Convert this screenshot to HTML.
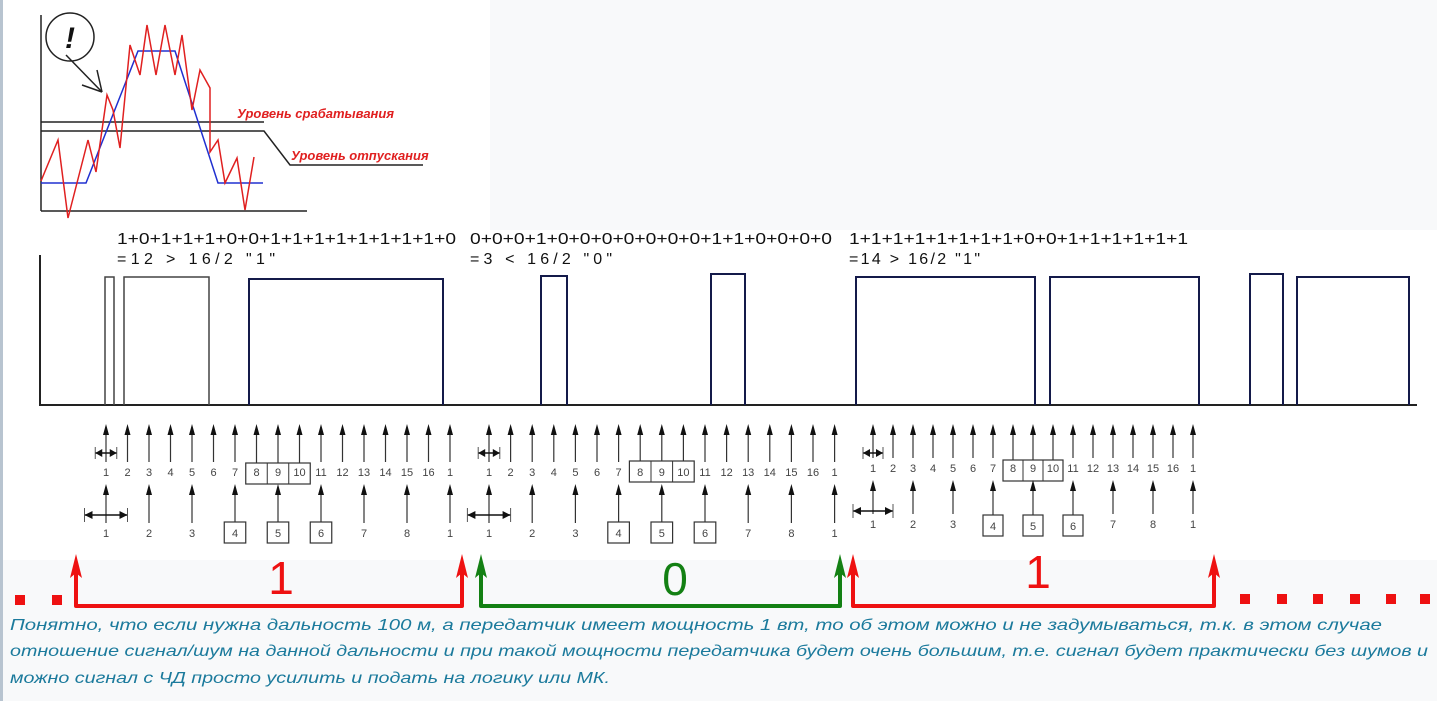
<!DOCTYPE html>
<html><head><meta charset="utf-8"><style>
html,body{margin:0;padding:0;background:#f8f9fa;}
svg{display:block}
</style></head><body>
<svg id="s" width="1437" height="701" xmlns="http://www.w3.org/2000/svg" font-family="Liberation Sans, sans-serif">
<rect x="0" y="0" width="1437" height="701" fill="#f8f9fa"/>
<rect x="0" y="0" width="3" height="701" fill="#b8c4d0"/>
<rect x="3" y="0" width="487" height="230" fill="#fff"/>
<rect x="3" y="230" width="1434" height="330" fill="#fff"/>
<!-- top graph -->
<g fill="none" stroke="#222" stroke-width="1.5">
<line x1="41" y1="15" x2="41" y2="211"/>
<line x1="41" y1="211" x2="307" y2="211"/>
<line x1="41" y1="122" x2="264" y2="122"/>
<polyline points="41,131 264,131 290,165 423,165"/>
<circle cx="70" cy="37" r="24"/>
<line x1="66" y1="55" x2="102" y2="92"/>
<line x1="82" y1="85" x2="102" y2="92"/>
<line x1="97" y1="70" x2="102" y2="92"/>
</g>
<text x="70" y="48" font-size="30" font-weight="bold" font-style="italic" text-anchor="middle" fill="#111">!</text>
<polyline fill="none" stroke="#2030d0" stroke-width="1.5" points="41,183 86,183 138,51 175,51 218,183 263,183"/>
<polyline fill="none" stroke="#e02020" stroke-width="1.5" points="41,181 58,140 68,218 88,140 96,172 107,95 113,110 120,148 130,45 140,75 147,25 156,75 165,25 175,75 182,35 192,110 200,70 210,88 210,152 218,140 225,183 237,158 245,210 254,157"/>
<text x="237" y="118" font-size="13" font-weight="bold" font-style="italic" fill="#e02020">Уровень срабатывания</text>
<text x="291" y="160" font-size="13" font-weight="bold" font-style="italic" fill="#e02020">Уровень отпускания</text>
<!-- sums -->
<g font-size="16" fill="#111">
<text x="117" y="244" textLength="339" lengthAdjust="spacingAndGlyphs">1+0+1+1+1+0+0+1+1+1+1+1+1+1+1+0</text>
<text x="117" y="264" textLength="158" lengthAdjust="spacing">=12 &gt; 16/2     "1"</text>
<text x="470" y="244" textLength="362" lengthAdjust="spacingAndGlyphs">0+0+0+1+0+0+0+0+0+0+0+1+1+0+0+0+0</text>
<text x="470" y="264" textLength="142" lengthAdjust="spacing">=3 &lt; 16/2     "0"</text>
<text x="849" y="244" textLength="339" lengthAdjust="spacingAndGlyphs">1+1+1+1+1+1+1+1+0+0+1+1+1+1+1+1</text>
<text x="849" y="264" textLength="131" lengthAdjust="spacing">=14 &gt; 16/2     "1"</text>
</g>
<!-- waveform -->
<line x1="40" y1="255" x2="40" y2="405" stroke="#222" stroke-width="2"/>
<line x1="39" y1="405" x2="1417" y2="405" stroke="#222" stroke-width="2"/>
<g fill="none" stroke="#444" stroke-width="1.5">
<polyline points="105,405 105,277 114,277 114,405"/>
<polyline points="124,405 124,277 209,277 209,405"/>
</g>
<g fill="none" stroke="#141a4a" stroke-width="2">
<polyline points="249,405 249,279 443,279 443,405"/>
<polyline points="541,405 541,276 567,276 567,405"/>
<polyline points="711,405 711,274 745,274 745,405"/>
<polyline points="856,405 856,277 1035,277 1035,405"/>
<polyline points="1050,405 1050,277 1199,277 1199,405"/>
<polyline points="1250,405 1250,274 1283,274 1283,405"/>
<polyline points="1297,405 1297,277 1409,277 1409,405"/>
</g>
<g id="arr"></g>
<!-- brackets -->
<g fill="none" stroke-width="4" stroke-linejoin="round">
<polyline stroke="#ee1111" points="76,568 76,606 462,606 462,568"/>
<polyline stroke="#138013" points="481,568 481,606 840,606 840,568"/>
<polyline stroke="#ee1111" points="853,568 853,606 1214,606 1214,568"/>
</g>
<polygon fill="#ee1111" points="76,554 70,578 76,573 82,578"/>
<polygon fill="#ee1111" points="462,554 456,578 462,573 468,578"/>
<polygon fill="#138013" points="481,554 475,578 481,573 487,578"/>
<polygon fill="#138013" points="840,554 834,578 840,573 846,578"/>
<polygon fill="#ee1111" points="853,554 847,578 853,573 859,578"/>
<polygon fill="#ee1111" points="1214,554 1208,578 1214,573 1220,578"/>
<text x="281" y="594" font-size="46" fill="#ee1111" text-anchor="middle">1</text>
<text x="675" y="595" font-size="46" fill="#138013" text-anchor="middle">0</text>
<text x="1038" y="588" font-size="46" fill="#ee1111" text-anchor="middle">1</text>
<g fill="#ee1111">
<rect x="15" y="595" width="10" height="10"/><rect x="52" y="595" width="10" height="10"/>
<rect x="1240" y="594" width="10" height="10"/><rect x="1277" y="594" width="10" height="10"/><rect x="1313" y="594" width="10" height="10"/><rect x="1350" y="594" width="10" height="10"/><rect x="1386" y="594" width="10" height="10"/><rect x="1420" y="594" width="10" height="10"/>
</g>
<g font-size="16" font-style="italic" fill="#1b7a9c">
<text x="10" y="630" textLength="1372" lengthAdjust="spacingAndGlyphs">Понятно, что если нужна дальность 100 м, а передатчик имеет мощность 1 вт, то об этом можно и не задумываться, т.к. в этом случае</text>
<text x="10" y="656" textLength="1418" lengthAdjust="spacingAndGlyphs">отношение сигнал/шум на данной дальности и при такой мощности передатчика будет очень большим, т.е. сигнал будет практически без шумов и</text>
<text x="10" y="683" textLength="600" lengthAdjust="spacingAndGlyphs">можно сигнал с ЧД просто усилить и подать на логику или МК.</text>
</g>
</svg>
<script>
(function(){
var NS="http://www.w3.org/2000/svg",g=document.getElementById("arr");
function el(t,a,txt){var e=document.createElementNS(NS,t);for(var k in a)e.setAttribute(k,a[k]);if(txt!=null)e.textContent=txt;g.appendChild(e);return e;}
function arrow(x,tip,bot){el("line",{x1:x,y1:tip+8,x2:x,y2:bot,stroke:"#333","stroke-width":1.2});el("polygon",{points:(x)+","+tip+" "+(x-3)+","+(tip+11)+" "+(x+3)+","+(tip+11),fill:"#111"});}
function lab(x,y,t){el("text",{x:x,y:y,"font-size":11,"text-anchor":"middle",fill:"#444"},t);}
function box(x,y,w,h){el("rect",{x:x,y:y,width:w,height:h,fill:"none",stroke:"#333","stroke-width":1.2});}
var G=[{x:106,s:21.5,r1:424,l1:476,r2:484,l2:537,b1:463,b2:522},{x:489,s:21.6,r1:424,l1:476,r2:484,l2:537,b1:461,b2:522},{x:873,s:20,r1:424,l1:472,r2:480,l2:528,b1:460,b2:515}];
G.forEach(function(p){
 for(var i=0;i<17;i++){var x=p.x+i*p.s;var inBox=(i>=7&&i<=9);arrow(x,p.r1,inBox?p.b1:p.l1-14);
  var t=i<16?String(i+1):"1";lab(x,p.l1,t);}
 box(p.x+7*p.s-p.s/2,p.b1,p.s*3,21);
 el("line",{x1:p.x+8*p.s-p.s/2,y1:p.b1,x2:p.x+8*p.s-p.s/2,y2:p.b1+21,stroke:"#333"});
 el("line",{x1:p.x+9*p.s-p.s/2,y1:p.b1,x2:p.x+9*p.s-p.s/2,y2:p.b1+21,stroke:"#333"});
 var labs=["1","2","3","4","5","6","7","8","1"];
 for(var j=0;j<9;j++){var x=p.x+2*j*p.s;var bx=(j>=3&&j<=5);
  arrow(x,p.r2,bx?p.b2:p.l2-14);
  if(bx){box(x-p.s/2,p.b2,p.s,21);lab(x,p.b2+15,labs[j]);}else lab(x,p.l2,labs[j]);}
 var y1=p.r1+29,x0=p.x-p.s/2,x1=p.x+p.s/2;
 el("line",{x1:x0,y1:y1,x2:x1,y2:y1,stroke:"#111","stroke-width":1.5});
 el("line",{x1:x0,y1:y1-6,x2:x0,y2:y1+6,stroke:"#555"});el("line",{x1:x1,y1:y1-6,x2:x1,y2:y1+6,stroke:"#555"});
 el("polygon",{points:x0+","+y1+" "+(x0+7)+","+(y1-4)+" "+(x0+7)+","+(y1+4),fill:"#111"});
 el("polygon",{points:x1+","+y1+" "+(x1-7)+","+(y1-4)+" "+(x1-7)+","+(y1+4),fill:"#111"});
 var y2=p.r2+31,a0=p.x-p.s,a1=p.x+p.s;
 el("line",{x1:a0,y1:y2,x2:a1,y2:y2,stroke:"#111","stroke-width":1.5});
 el("line",{x1:a0,y1:y2-7,x2:a0,y2:y2+7,stroke:"#555"});el("line",{x1:a1,y1:y2-7,x2:a1,y2:y2+7,stroke:"#555"});
 el("polygon",{points:a0+","+y2+" "+(a0+8)+","+(y2-4)+" "+(a0+8)+","+(y2+4),fill:"#111"});
 el("polygon",{points:a1+","+y2+" "+(a1-8)+","+(y2-4)+" "+(a1-8)+","+(y2+4),fill:"#111"});
});
})();
</script>
</body></html>
